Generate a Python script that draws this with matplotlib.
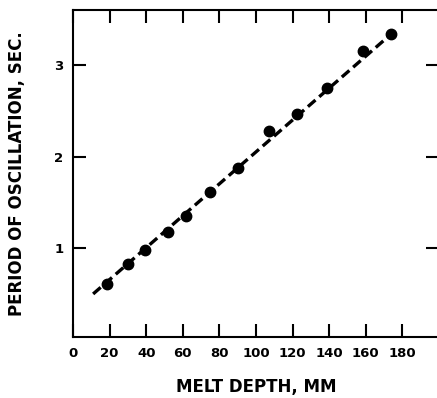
import matplotlib
matplotlib.use("Agg")
import matplotlib.pyplot as plt

melt_depth = [18.5, 30, 39.5, 52, 62, 75, 90, 107, 122.5, 139, 158.5, 173.5]
period = [0.61, 0.83, 0.98, 1.18, 1.35, 1.61, 1.88, 2.28, 2.46, 2.75, 3.15, 3.34]

# dashed fit line end points
fit_depth = [11, 174]
fit_period = [0.50, 3.34]

x_ticks = [0, 20, 40, 60, 80, 100, 120, 140, 160, 180]
y_ticks = [1, 2, 3]

plt.rcParams['font.family'] = 'DejaVu Sans'
plt.rcParams['font.weight'] = 'bold'

fig = plt.figure(figsize=(4.37, 3.98), dpi=100)
ax = fig.add_axes([73 / 437, 61 / 398, 366 / 437, 327 / 398])

ax.plot(fit_depth, fit_period, color='black', lw=2.4, dashes=(3.0, 1.5),
        solid_capstyle='butt', dash_capstyle='butt')
ax.plot(melt_depth, period, 'o', color='black', ms=7.5)

ax.set_xlim(0, 200)
ax.set_ylim(0.03, 3.6)
ax.set_xticks(x_ticks)
ax.set_xticklabels([str(v) for v in x_ticks])
ax.set_yticks(y_ticks)
ax.set_yticklabels([str(v) for v in y_ticks])

ax.tick_params(direction='in', length=9.5, width=1.5, top=True, right=True,
               labelsize=9.5, pad=7)
for lab in ax.get_xticklabels() + ax.get_yticklabels():
    lab.set_fontweight('bold')
for s in ax.spines.values():
    s.set_linewidth(1.5)

ax.set_xlabel("MELT DEPTH, MM", fontsize=12, fontweight='bold', labelpad=13)
ax.set_ylabel("PERIOD OF OSCILLATION, SEC.", fontsize=12, fontweight='bold', labelpad=20)

fig.savefig("out.png", dpi=100)
